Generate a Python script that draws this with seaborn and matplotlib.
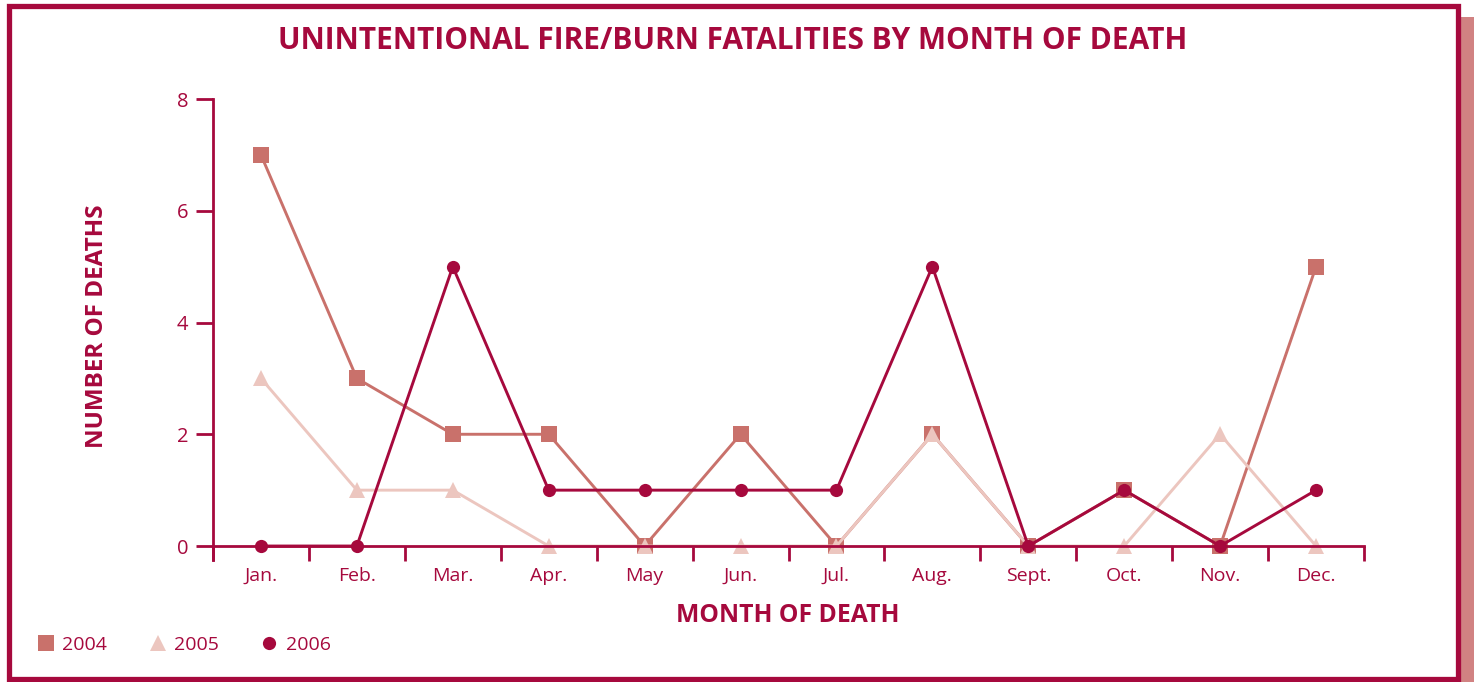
import pandas as pd
import seaborn as sns
import matplotlib.pyplot as plt
from matplotlib.patches import Rectangle
from matplotlib.lines import Line2D

months = ["Jan.", "Feb.", "Mar.", "Apr.", "May", "Jun.", "Jul.", "Aug.",
          "Sept.", "Oct.", "Nov.", "Dec."]
deaths_2004 = [7, 3, 2, 2, 0, 2, 0, 2, 0, 1, 0, 5]
deaths_2005 = [3, 1, 1, 0, 0, 0, 0, 2, 0, 0, 2, 0]
deaths_2006 = [0, 0, 5, 1, 1, 1, 1, 5, 0, 1, 0, 1]
years = ["2004", "2005", "2006"]

RED = "#a6093d"
palette = {"2004": "#c9716b", "2005": "#ecc6bf", "2006": "#a6093d"}
markers = {"2004": "s", "2005": "^", "2006": "o"}
msize = {"2004": 11, "2005": 11, "2006": 9.5}

df = pd.DataFrame({
    "month": months * 3,
    "pos": list(range(12)) * 3,
    "deaths": deaths_2004 + deaths_2005 + deaths_2006,
    "year": ["2004"] * 12 + ["2005"] * 12 + ["2006"] * 12,
})

sns.set_style("white")
plt.rcParams["font.family"] = ["Open Sans", "DejaVu Sans"]

fig = plt.figure(figsize=(14.74, 6.82), dpi=100)
ax = fig.add_axes([213 / 1474, 1 - 560 / 682, (1364 - 213) / 1474, (560 - 99) / 682])

for yr in years:
    sub = df[df["year"] == yr]
    sns.lineplot(data=sub, x="pos", y="deaths", color=palette[yr], marker=markers[yr],
                 markersize=msize[yr], markeredgewidth=0, linewidth=2.1, ax=ax, legend=False)

ax.set_xlim(-0.5, 11.5)
ax.set_ylim(-0.25, 8)
ax.set_yticks([0, 2, 4, 6, 8])
ax.set_xticks(range(12))
ax.set_xticklabels(months)
ax.set_xticks([i - 0.5 for i in range(13)], minor=True)
ax.tick_params(axis="x", which="major", length=0, pad=15, labelsize=14, labelcolor=RED)
ax.tick_params(axis="x", which="minor", length=11, width=2, color=RED, direction="out")
ax.tick_params(axis="y", length=12, width=2, color=RED, labelsize=14.5, labelcolor=RED, pad=6)
ax.tick_params(left=True, bottom=True, which="both")

for s in ["top", "right"]:
    ax.spines[s].set_visible(False)
ax.spines["left"].set_color(RED)
ax.spines["left"].set_linewidth(2)
ax.spines["bottom"].set_color(RED)
ax.spines["bottom"].set_linewidth(2)
ax.spines["bottom"].set_position(("data", 0))
ax.set_xlabel("")
ax.set_ylabel("")

fig.text(733 / 1474, 1 - 41 / 682, "UNINTENTIONAL FIRE/BURN FATALITIES BY MONTH OF DEATH",
         ha="center", va="center", fontsize=21.5, fontweight="bold", color=RED)
fig.text(97 / 1474, 1 - 326 / 682, "NUMBER OF DEATHS", rotation=90,
         ha="center", va="center", fontsize=17.5, fontweight="bold", color=RED)
fig.text(788 / 1474, 1 - 615 / 682, "MONTH OF DEATH",
         ha="center", va="center", fontsize=17.8, fontweight="bold", color=RED)

handles = [Line2D([], [], linestyle="none", marker=markers[y], color=palette[y],
                  markersize=msize[y], markeredgewidth=0) for y in years]
leg = fig.legend(handles, years, loc="center left", bbox_to_anchor=(30 / 1474, 1 - 645 / 682),
                 ncol=3, frameon=False, fontsize=14, handlelength=0.8, handletextpad=0.45,
                 columnspacing=2.2, borderaxespad=0)
for t in leg.get_texts():
    t.set_color(RED)

# outer frame and right-side shadow
fig.patches.append(Rectangle((1461 / 1474, 0), 13 / 1474, 665 / 682, transform=fig.transFigure,
                             facecolor="#d18282", edgecolor="none", zorder=0))
fig.patches.append(Rectangle((9 / 1474, 3 / 682), 1449 / 1474, 673 / 682, transform=fig.transFigure,
                             facecolor="none", edgecolor=RED, linewidth=3.8, zorder=1))

fig.savefig("out.png", dpi=100)
